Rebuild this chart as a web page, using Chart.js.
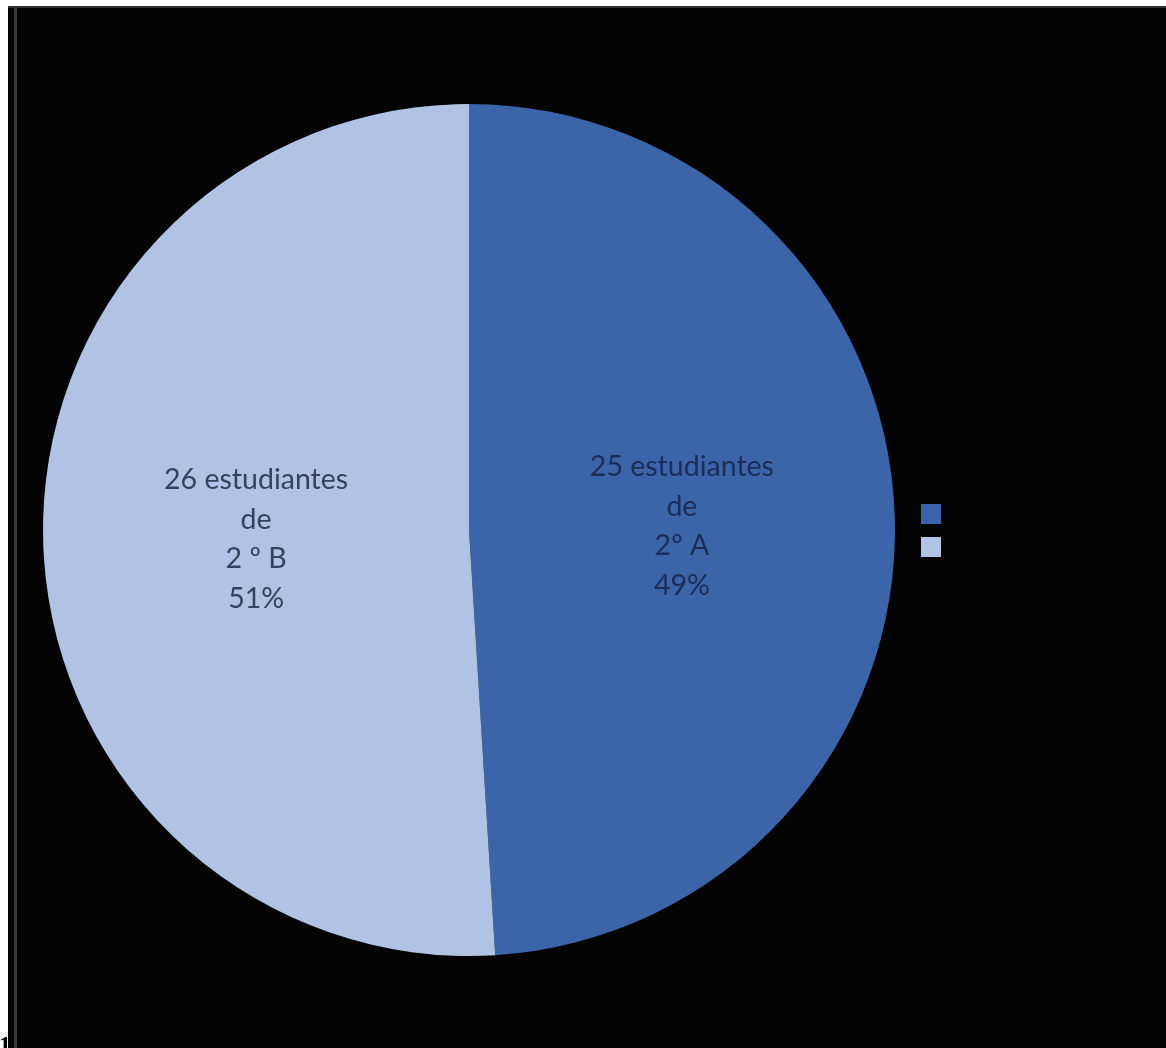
<!DOCTYPE html>
<html>
<head>
<meta charset="utf-8">
<script src="https://cdn.jsdelivr.net/npm/chart.js@4/dist/chart.umd.min.js"></script>
<style>
  html, body { margin: 0; padding: 0; background: #fff; }
  body { width: 1166px; height: 1048px; position: relative; overflow: hidden; }
  #panel {
    position: absolute; left: 8px; top: 6px; width: 1158px; height: 1042px;
    background: #030303; border-top: 2px solid #2e2e2e; box-sizing: border-box;
  }
  #edge { position: absolute; left: 6px; top: 0; width: 3px; height: 100%; background: #3a3a3a; }
  #chart-box { position: absolute; left: 0; top: 0; width: 1158px; height: 1040px; }
  #page-num {
    position: absolute; left: -1px; top: 1032px; z-index: 5;
    font: bold 24px "Liberation Serif", serif; color: #000; line-height: 24px;
  }
</style>
</head>
<body>
<div id="panel">
  <div id="edge"></div>
  <div id="chart-box"><canvas id="chart" width="1158" height="1040"></canvas></div>
</div>
<div id="page-num">1</div>
<script>
// Données du graphique
const categories = ["2º A", "2º B"];
const students = [25, 26];
const sliceLabels = [
    ["25 estudiantes", "de", "2º A", "49%"],
    ["26 estudiantes", "de", "2 º B", "51%"]
];
const sliceColors = ["#3b64a9", "#b0c3e5"];
const textColors = ["#1b2c58", "#36415c"];

// Étiquettes au centre de chaque part
const sliceTextPlugin = {
    id: "sliceText",
    afterDatasetsDraw(chart) {
        const ctx = chart.ctx;
        const meta = chart.getDatasetMeta(0);
        ctx.save();
        ctx.font = '28.5px Lato, "Open Sans", sans-serif';
        ctx.textAlign = "center";
        ctx.textBaseline = "middle";
        meta.data.forEach((arc, i) => {
            const pos = arc.tooltipPosition();
            const lines = sliceLabels[i];
            const lineHeight = 39.5;
            const startY = pos.y + 3 - (lines.length - 1) * lineHeight / 2;
            ctx.fillStyle = textColors[i];
            lines.forEach((line, j) => ctx.fillText(line, pos.x, startY + j * lineHeight));
        });
        ctx.restore();
    }
};

// Légende : petits carrés sans texte à droite du camembert
const squareLegendPlugin = {
    id: "squareLegend",
    afterDraw(chart) {
        const ctx = chart.ctx;
        const colors = chart.data.datasets[0].backgroundColor;
        ctx.save();
        colors.forEach((color, i) => {
            ctx.fillStyle = color;
            ctx.fillRect(913, 496 + i * 33, 20, 20);
        });
        ctx.restore();
    }
};

const ctx = document.getElementById("chart").getContext("2d");
new Chart(ctx, {
    type: "pie",
    data: {
        labels: categories,
        datasets: [{
            data: students,
            backgroundColor: sliceColors,
            borderWidth: 0
        }]
    },
    options: {
        responsive: false,
        animation: false,
        layout: { padding: { left: 35, top: 96, right: 271, bottom: 92 } },
        plugins: {
            legend: { display: false },
            tooltip: { enabled: false }
        }
    },
    plugins: [sliceTextPlugin, squareLegendPlugin]
});
</script>
</body>
</html>
